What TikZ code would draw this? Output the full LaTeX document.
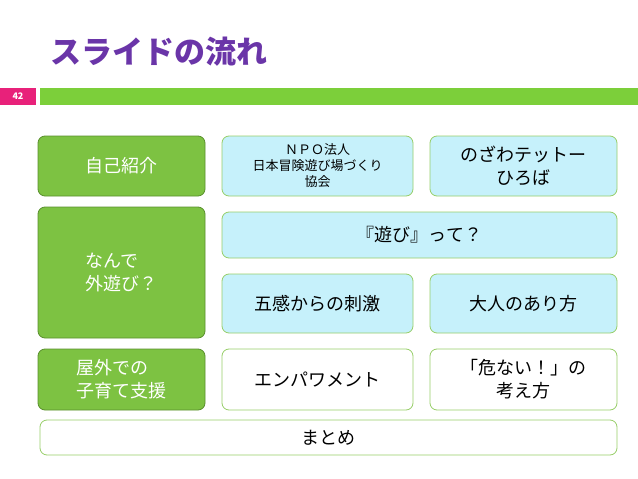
\documentclass[tikz,border=0pt]{standalone}
\usepackage{fontspec}
\setmainfont{Noto Sans CJK JP}
\definecolor{leaf}{HTML}{7DC242}
\definecolor{leafline}{HTML}{5A8F2E}
\definecolor{sky}{HTML}{C6F1FB}
\definecolor{title}{HTML}{6A35A8}
\definecolor{pagepink}{HTML}{E8217A}
\definecolor{barleaf}{HTML}{7CCF3A}
\tikzset{
x=1pt, y=-1pt,
every node/.style={inner sep=0pt, align=center},
topic/.style={draw=leafline, fill=leaf, rounded corners=7pt, thick, text=white, font=\fontsize{18}{23}\selectfont},
part/.style={draw=leaf!80, fill=sky, rounded corners=7pt, thick, font=\fontsize{18}{23}\selectfont},
later/.style={draw=leaf!80, fill=white, rounded corners=7pt, thick, font=\fontsize{18}{23}\selectfont},
}
\begin{document}
\begin{tikzpicture}
    \useasboundingbox (0,0) rectangle (638,479);
    \node[anchor=west, text=title, font=\fontsize{31}{34}\selectfont\bfseries] (heading) at (50,52) {スライドの流れ};
    \fill[pagepink] (0,88) rectangle (36,105);
    \node[text=white, font=\fontsize{9}{10}\selectfont\bfseries] (page) at (18,96.5) {42};
    \fill[barleaf] (40,88) rectangle (638,105);
    % left column
    \draw[topic] (38,136) rectangle node (self) {自己紹介} (205,196);
    \draw[topic] (38,207) rectangle node[align=left] (why) {なんで\\外遊び？} (205,338);
    \draw[topic] (38,349) rectangle node[align=left] (outdoor) {屋外での\\子育て支援} (205,410);
    % top row
    \draw[part] (222,136) rectangle node[font=\fontsize{13}{16}\selectfont] (npo) {ＮＰＯ法人\\日本冒険遊び場づくり\\協会} (413,196);
    \draw[part] (430,136) rectangle node (nozawa) {のざわテットー\\ひろば} (617,196);
    % why
    \draw[part] (222,212) rectangle node (play) {『遊び』って？} (617,258);
    \draw[part] (222,274) rectangle node (senses) {五感からの刺激} (413,333);
    \draw[part] (430,274) rectangle node (adults) {大人のあり方} (617,333);
    % outdoor
    \draw[later] (222,349) rectangle node (empower) {エンパワメント} (413,410);
    \draw[later] (430,349) rectangle node (danger) {「危ない！」の\\考え方} (617,410);
    \draw[later] (40,420) rectangle node (summary) {まとめ} (617,455);
\end{tikzpicture}
\end{document}
